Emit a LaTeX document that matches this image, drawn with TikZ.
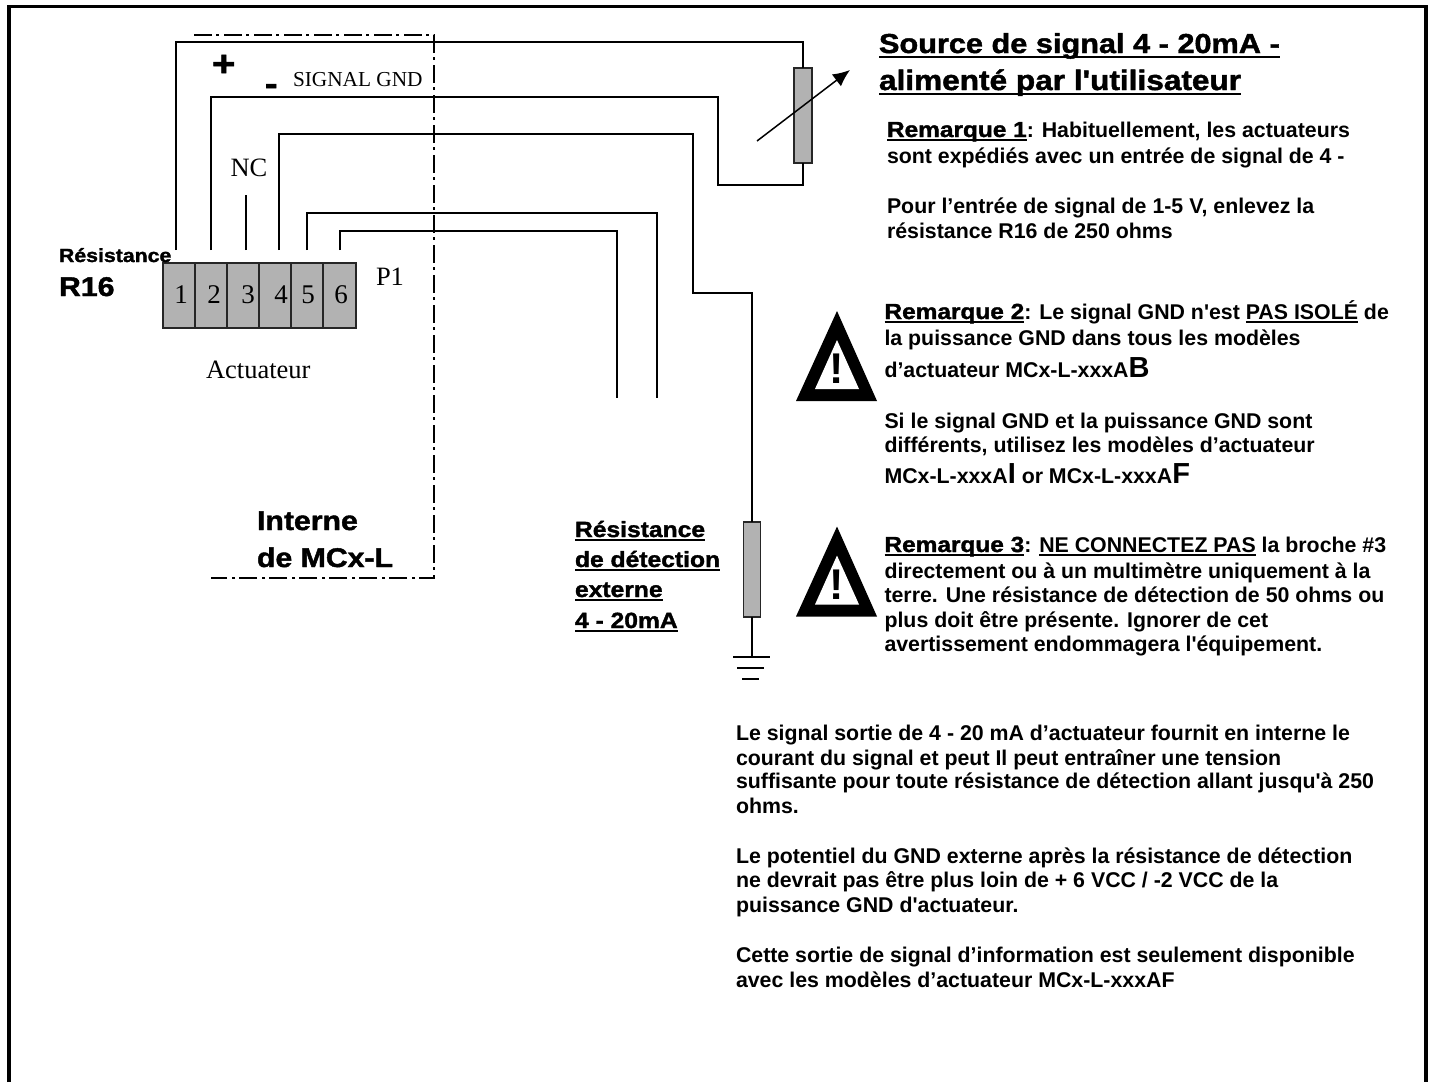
\documentclass[tikz,border=0pt]{standalone}
\usepackage{fontspec}
\usetikzlibrary{arrows.meta}
\setmainfont{Liberation Serif}
\newfontfamily\arialb{Liberation Sans Bold}
\newfontfamily\heavy[FakeBold=1.6,FakeStretch=1.12]{Liberation Sans Bold}
\newfontfamily\serifr{Liberation Serif}
\newcommand\fs[1]{\fontsize{#1}{#1}\selectfont}
\newcommand\ulin[1]{\leavevmode\setbox0\hbox{#1}\rlap{\raisebox{-0.17em}{\rule{\wd0}{0.075em}}}\box0\relax}
\newcommand\rem[1]{{\heavy\fs{21.8}\ulin{#1}}}
\newcommand\bigch[1]{{\fs{29}#1}}
\definecolor{partgray}{HTML}{B2B2B2}
\tikzset{
  lbl/.style={anchor=base west,inner sep=0pt,outer sep=0pt},
  body/.style={lbl,font=\arialb\fs{21.33}},
  headB/.style={lbl,font=\heavy\fs{22}},
  serifT/.style={lbl,font=\serifr\fs{26.5}},
  wire/.style={line width=1.5pt,draw=black,line join=miter},
  part/.style={draw=black!85,line width=1.5pt,fill=partgray,inner sep=0pt,outer sep=0pt},
  cellbox/.style={part,minimum height=65pt,anchor=west},
  bound/.style={line width=1.4pt,dash pattern=on 18pt off 4pt on 3pt off 5pt},
}
\newcommand\warnsign[2]{%
  \begin{scope}[shift={(0,#1)}]
    \fill[black] (837,311) -- (877,401) -- (796,401) -- cycle;
    \fill[white] (837,340) -- (859,389) -- (815,389) -- cycle;
    \node[lbl,anchor=base,font=\arialb\fs{43}] (#2) at (837,383.5) {!};
  \end{scope}}
\begin{document}
\begin{tikzpicture}[x=1pt,y=-1pt]
\useasboundingbox (0,0) rectangle (1429,1082);
\fill[white] (0,0) rectangle (1429,1082);
% frame
\draw[line width=3.5pt] (9,1082) -- (9,6.5) -- (1426,6.5) -- (1426,1082);
% internal boundary
\draw[bound] (194,35) -- (434,35) -- (434,578) -- (211,578);
% connector
\foreach \n/\l/\w in {1/163/32,2/195/32,3/227/32,4/259/32,5/291/32,6/323/33}{
  \node[cellbox,minimum width=\w pt] (cell\n) at (\l,295.5) {};
}
\foreach \n/\x in {1/181,2/214,3/248,4/281,5/308,6/341}{
  \node[lbl,anchor=base,font=\serifr\fs{27}] (dig\n) at (\x,303) {\n};
}
\coordinate (p1) at (176,250);
\coordinate (p2) at (211,250);
\coordinate (p3) at (246,250);
\coordinate (p4) at (279,250);
\coordinate (p5) at (307,250);
\coordinate (p6) at (340,250);
\coordinate (nctop) at (246,195);
\coordinate (e5) at (657,398);
\coordinate (e6) at (617,398);
% resistors
\node[part,minimum width=18pt,minimum height=95pt] (rs) at (803,115.5) {};
\node[part,minimum width=17pt,minimum height=95pt] (rd) at (752,569.5) {};
% wires
\draw[wire] (p1) -- (176,42) -- (803,42) -- (rs.north);
\draw[wire] (p2) -- (211,97) -- (718,97) -- (718,185) -- (803,185) -- (rs.south);
\draw[wire] (p3) -- (nctop);
\draw[wire] (p4) -- (279,134) -- (693,134) -- (693,293) -- (752,293) -- (rd.north);
\draw[wire] (p5) -- (307,213) -- (657,213) -- (e5);
\draw[wire] (p6) -- (340,231) -- (617,231) -- (e6);
% variable arrow
\coordinate (va) at (757,141);
\coordinate (vb) at (850,70);
\draw[line width=1.5pt,-{Latex[length=17pt,width=15pt]}] (va) -- (vb);
% ground
\coordinate (g0) at (752,657);
\draw[wire] (rd.south) -- (g0);
\draw[wire] (733,657) -- (770,657);
\draw[wire] (737,668) -- (764,668);
\draw[wire] (742,679) -- (759,679);
% left labels
\node[lbl,font=\heavy\fs{19}] (tres) at (59,262) {Résistance};
\node[lbl,font=\heavy\fs{27}] (tr16) at (59,296) {R16};
\node[lbl,font=\heavy\fs{36}] (tplus) at (212,76) {+};
\node[lbl,font=\heavy\fs{34}] (tminus) at (265,95) {-};
\node[lbl,font=\serifr\fs{21.3}] (tsg) at (293,86) {SIGNAL GND};
\node[serifT] (tnc) at (230.5,176) {NC};
\node[serifT] (tp1) at (376,285) {P1};
\node[serifT] (tact) at (206,378) {Actuateur};
\node[lbl,font=\heavy\fs{27}] (tint) at (257,530) {Interne};
\node[lbl,font=\heavy\fs{27}] (tmcx) at (257,567) {de MCx-L};
\node[headB] (td1) at (575,537) {\ulin{Résistance}};
\node[headB] (td2) at (575,567) {\ulin{de détection}};
\node[headB] (td3) at (575,597) {\ulin{externe}};
\node[headB] (td4) at (575,628) {\ulin{4 - 20mA}};
% title
\node[lbl,font=\heavy\fs{27.4}] (ti1) at (879,53) {\ulin{Source de signal 4 - 20mA -}};
\node[lbl,font=\heavy\fs{28.2}] (ti2) at (879,90) {\ulin{alimenté par l'utilisateur}};
% remark 1
\node[body] (r1a) at (887,137) {\rem{Remarque 1}: Habituellement, les actuateurs};
\node[body] (r1b) at (887,163) {sont expédiés avec un entrée de signal de 4 -};
\node[body] (r1c) at (887,213) {Pour l’entrée de signal de 1-5 V, enlevez la};
\node[body] (r1d) at (887,238) {résistance R16 de 250 ohms};
% remark 2
\warnsign{0}{ex1}
\node[body] (r2a) at (884.5,319) {\rem{Remarque 2}: Le signal GND n'est \ulin{PAS ISOLÉ} de};
\node[body] (r2b) at (884.5,345) {la puissance GND dans tous les modèles};
\node[body] (r2c) at (884.5,377) {d’actuateur MCx-L-xxxA\bigch{B}};
\node[body] (r2d) at (884.5,428) {Si le signal GND et la puissance GND sont};
\node[body] (r2e) at (884.5,452) {différents, utilisez les modèles d’actuateur};
\node[body] (r2f) at (884.5,483) {MCx-L-xxxA\bigch{I} or MCx-L-xxxA\bigch{F}};
% remark 3
\warnsign{215.5}{ex2}
\node[body] (r3a) at (884.5,552) {\rem{Remarque 3}: \ulin{NE CONNECTEZ PAS} la broche \#3};
\node[body] (r3b) at (884.5,578) {directement ou à un multimètre uniquement à la};
\node[body] (r3c) at (884.5,602) {terre. Une résistance de détection de 50 ohms ou};
\node[body] (r3d) at (884.5,627) {plus doit être présente. Ignorer de cet};
\node[body] (r3e) at (884.5,651) {avertissement endommagera l'équipement.};
% bottom text
\node[body] (b1) at (736,740) {Le signal sortie de 4 - 20 mA d’actuateur fournit en interne le};
\node[body] (b2) at (736,765) {courant du signal et peut Il peut entraîner une tension};
\node[body] (b3) at (736,788) {suffisante pour toute résistance de détection allant jusqu'à 250};
\node[body] (b4) at (736,813) {ohms.};
\node[body] (b5) at (736,863) {Le potentiel du GND externe après la résistance de détection};
\node[body] (b6) at (736,887) {ne devrait pas être plus loin de + 6 VCC / -2 VCC de la};
\node[body] (b7) at (736,912) {puissance GND d'actuateur.};
\node[body] (b8) at (736,962) {Cette sortie de signal d’information est seulement disponible};
\node[body] (b9) at (736,987) {avec les modèles d’actuateur MCx-L-xxxAF};
\end{tikzpicture}
\end{document}
